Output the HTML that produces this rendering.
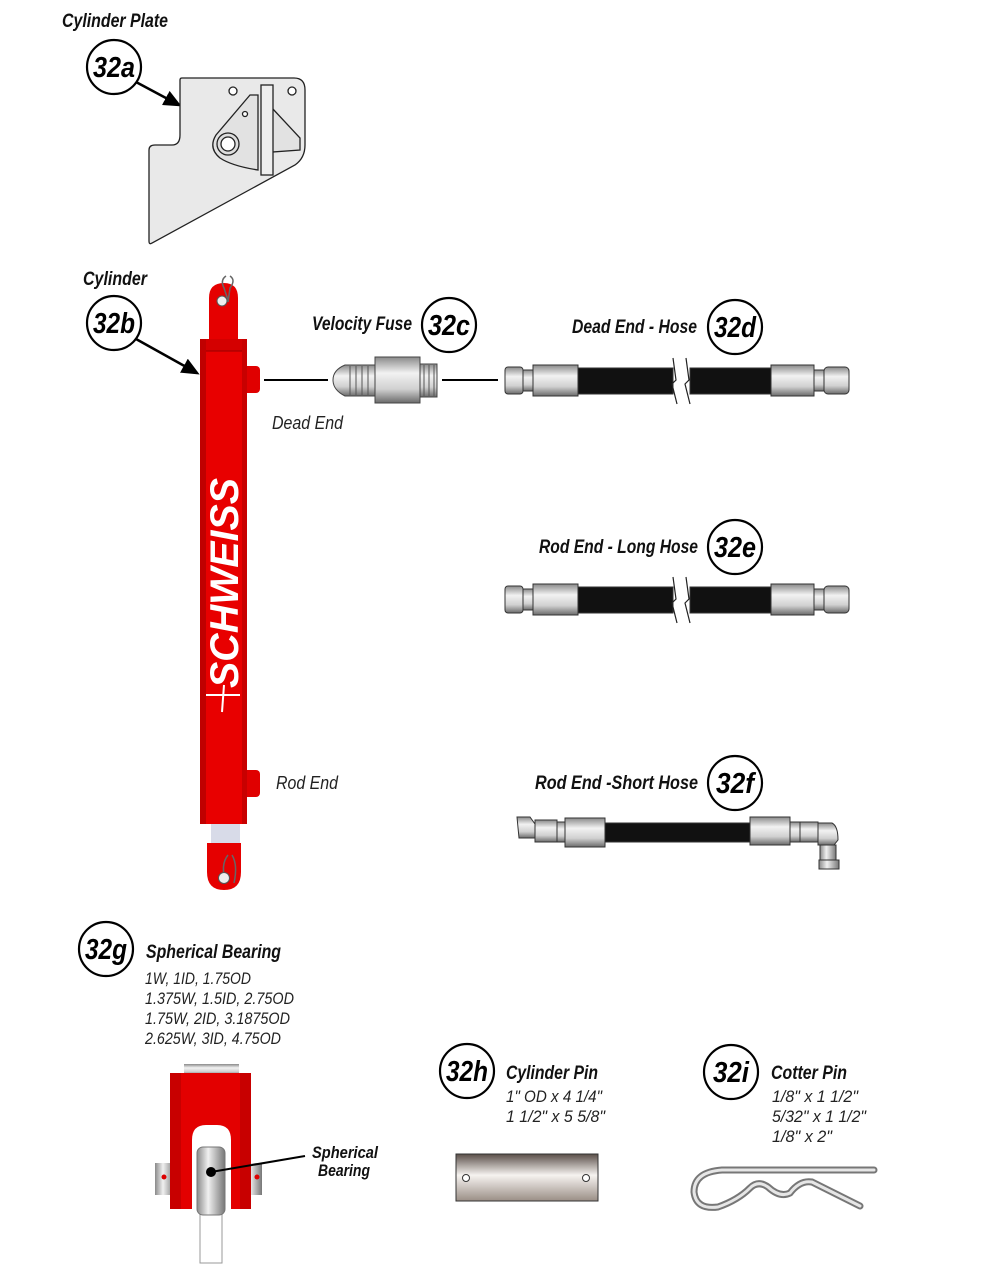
<!DOCTYPE html>
<html><head><meta charset="utf-8"><style>
html,body{margin:0;padding:0;background:#fff;}
svg{display:block;}
.t{font-family:"Liberation Sans Narrow","Liberation Sans",sans-serif;font-style:italic;}
.b{font-weight:bold;}
</style></head><body>
<svg width="990" height="1275" viewBox="0 0 990 1275" xmlns="http://www.w3.org/2000/svg">
<defs>
<linearGradient id="met" x1="0" y1="0" x2="0" y2="1"><stop offset="0" stop-color="#8a8a8a"/><stop offset="0.35" stop-color="#f2f2f2"/><stop offset="0.7" stop-color="#d0d0d0"/><stop offset="1" stop-color="#6a6a6a"/></linearGradient>
<linearGradient id="metv" x1="0" y1="0" x2="1" y2="0"><stop offset="0" stop-color="#8a8a8a"/><stop offset="0.4" stop-color="#f0f0f0"/><stop offset="1" stop-color="#777"/></linearGradient>
<linearGradient id="pin" x1="0" y1="0" x2="0" y2="1"><stop offset="0" stop-color="#5a4e48"/><stop offset="0.45" stop-color="#f6f3f0"/><stop offset="1" stop-color="#9a8e86"/></linearGradient>
<marker id="ah" markerWidth="18" markerHeight="16" refX="15" refY="8" orient="auto" markerUnits="userSpaceOnUse"><path d="M0,0 L18,8 L0,16 z" fill="#000"/></marker>
</defs>

<!-- labels & circles -->
<g class="t b" font-size="19" fill="#111">
<text x="62" y="27" textLength="106" lengthAdjust="spacingAndGlyphs">Cylinder Plate</text>
<text x="83" y="285" textLength="64" lengthAdjust="spacingAndGlyphs">Cylinder</text>
<text x="312" y="330" textLength="100" lengthAdjust="spacingAndGlyphs">Velocity Fuse</text>
<text x="572" y="333" textLength="125" lengthAdjust="spacingAndGlyphs">Dead End - Hose</text>
<text x="539" y="553" textLength="159" lengthAdjust="spacingAndGlyphs">Rod End - Long Hose</text>
<text x="535" y="789" textLength="163" lengthAdjust="spacingAndGlyphs">Rod End  -Short Hose</text>
<text x="146" y="958" textLength="135" lengthAdjust="spacingAndGlyphs">Spherical Bearing</text>
<text x="506" y="1079" textLength="92" lengthAdjust="spacingAndGlyphs">Cylinder Pin</text>
<text x="771" y="1079" textLength="76" lengthAdjust="spacingAndGlyphs">Cotter Pin</text>
<text x="312" y="1158" font-size="17" textLength="66" lengthAdjust="spacingAndGlyphs">Spherical</text>
<text x="318" y="1176" font-size="17" textLength="52" lengthAdjust="spacingAndGlyphs">Bearing</text>
</g>
<g class="t" font-size="18" fill="#222">
<text x="272" y="429" textLength="71" lengthAdjust="spacingAndGlyphs">Dead End</text>
<text x="276" y="789" textLength="62" lengthAdjust="spacingAndGlyphs">Rod End</text>
<g font-size="17">
<text x="145" y="984" textLength="106" lengthAdjust="spacingAndGlyphs">1W, 1ID, 1.75OD</text>
<text x="145" y="1004" textLength="149" lengthAdjust="spacingAndGlyphs">1.375W, 1.5ID, 2.75OD</text>
<text x="145" y="1024" textLength="145" lengthAdjust="spacingAndGlyphs">1.75W, 2ID, 3.1875OD</text>
<text x="145" y="1044" textLength="136" lengthAdjust="spacingAndGlyphs">2.625W, 3ID, 4.75OD</text>
<text x="506" y="1102" textLength="96" lengthAdjust="spacingAndGlyphs">1" OD x 4 1/4"</text>
<text x="506" y="1122" textLength="99" lengthAdjust="spacingAndGlyphs">1 1/2" x 5 5/8"</text>
<text x="772" y="1102" textLength="86" lengthAdjust="spacingAndGlyphs">1/8" x 1 1/2"</text>
<text x="772" y="1122" textLength="94" lengthAdjust="spacingAndGlyphs">5/32" x 1 1/2"</text>
<text x="772" y="1142" textLength="60" lengthAdjust="spacingAndGlyphs">1/8" x 2"</text>
</g>
</g>

<g fill="#fff" stroke="#000" stroke-width="2.2">
<circle cx="114" cy="67" r="27"/><circle cx="114" cy="323" r="27"/>
<circle cx="449" cy="325" r="27"/><circle cx="735" cy="327" r="27"/>
<circle cx="735" cy="547" r="27"/><circle cx="735" cy="783" r="27"/>
<circle cx="106" cy="949" r="27"/><circle cx="467" cy="1071" r="27"/>
<circle cx="731" cy="1072" r="27"/>
</g>
<g class="t b" font-size="29" fill="#000" text-anchor="middle">
<text x="114" y="77" textLength="42" lengthAdjust="spacingAndGlyphs">32a</text><text x="114" y="333" textLength="42" lengthAdjust="spacingAndGlyphs">32b</text>
<text x="449" y="335" textLength="42" lengthAdjust="spacingAndGlyphs">32c</text><text x="735" y="337" textLength="42" lengthAdjust="spacingAndGlyphs">32d</text>
<text x="735" y="557" textLength="42" lengthAdjust="spacingAndGlyphs">32e</text><text x="735" y="793" textLength="38" lengthAdjust="spacingAndGlyphs">32f</text>
<text x="106" y="959" textLength="42" lengthAdjust="spacingAndGlyphs">32g</text><text x="467" y="1081" textLength="42" lengthAdjust="spacingAndGlyphs">32h</text>
<text x="731" y="1082" textLength="36" lengthAdjust="spacingAndGlyphs">32i</text>
</g>

<!-- arrows -->
<line x1="136" y1="82" x2="179" y2="105" stroke="#000" stroke-width="2.5" marker-end="url(#ah)"/>
<line x1="136" y1="339" x2="197" y2="373" stroke="#000" stroke-width="2.5" marker-end="url(#ah)"/>

<!-- cylinder plate -->
<g stroke="#222" stroke-width="1.3" fill="#e9e9e9">
<path d="M182,78 L294,78 Q305,78 305,90 L305,145 Q305,158 295,165 L152,243 Q149,245 149,241 L149,150 Q149,145 155,145 L172,145 Q180,145 180,135 L180,80 Q180,78 182,78 Z"/>
<path d="M258,95 L250,95 L216,135 Q208,148 220,158 Q232,166 258,170 Z" fill="#e2e2e2"/>
<path d="M272,108 L300,138 L300,150 L272,152 Z" fill="#e2e2e2"/>
<rect x="261" y="85" width="12" height="90" fill="#eee"/>
<circle cx="233" cy="91" r="4" fill="#fff"/><circle cx="292" cy="91" r="4" fill="#fff"/>
<circle cx="245" cy="114" r="2.5" fill="#fff"/>
<circle cx="228" cy="144" r="11" fill="#ddd"/><circle cx="228" cy="144" r="7" fill="#fff"/>
</g>

<!-- cylinder -->
<g>
<path d="M209,340 L209,298 Q209,283 224,283 Q238,283 238,298 L238,340 Z" fill="#e50000"/>
<path d="M226,276 q-6,4 -2,12 l4,12 M230,276 q6,4 0,12 l-2,14" stroke="#666" stroke-width="1.5" fill="none"/>
<circle cx="222" cy="301" r="5" fill="#eee" stroke="#555"/>
<rect x="242" y="366" width="18" height="27" rx="4" fill="#e00000"/>
<rect x="242" y="770" width="18" height="27" rx="4" fill="#e00000"/>
<rect x="200" y="339" width="47" height="485" fill="#e80000"/>
<rect x="200" y="339" width="47" height="12" fill="#d40000"/>
<line x1="200" y1="351" x2="247" y2="351" stroke="#900" stroke-width="1"/>
<rect x="200" y="339" width="6" height="485" fill="#c00000"/>
<rect x="242" y="339" width="5" height="485" fill="#c80000"/>
<rect x="211" y="824" width="29" height="19" fill="#d8dbe8"/>
<path d="M207,843 L241,843 L241,872 Q241,890 224,890 Q207,890 207,872 Z" fill="#e50000"/>
<path d="M228,855 q-8,10 -2,28 M232,855 q6,10 2,28" stroke="#666" stroke-width="1.5" fill="none"/>
<circle cx="224" cy="878" r="5.5" fill="#eee" stroke="#555"/>
<text transform="translate(238,688) rotate(-90)" font-family="Liberation Sans Narrow,Liberation Sans,sans-serif" font-style="italic" font-weight="bold" font-size="40" fill="#fff" textLength="210" lengthAdjust="spacingAndGlyphs">SCHWEISS</text>
<path d="M206,695 L240,695 M224,685 L222,712" stroke="#fff" stroke-width="2"/>
</g>

<!-- connector lines -->
<line x1="264" y1="380" x2="328" y2="380" stroke="#000" stroke-width="2"/>
<line x1="442" y1="380" x2="498" y2="380" stroke="#000" stroke-width="2"/>

<!-- velocity fuse -->
<g stroke="#444" stroke-width="1">
<path d="M345,365 L378,365 L378,396 L345,396 Q333,390 333,380 Q333,370 345,365 Z" fill="url(#met)"/>
<rect x="375" y="357" width="45" height="46" fill="url(#met)"/>
<rect x="420" y="364" width="17" height="33" fill="url(#met)"/>
<path d="M350,366 v29 M356,366 v29 M362,366 v29 M368,366 v29 M424,365 v31 M429,365 v31 M434,365 v31" stroke="#555"/>
</g>

<!-- hoses -->
<g id="hose">
<g stroke="#333" stroke-width="1">
<rect x="505" y="367" width="18" height="27" rx="3" fill="url(#met)"/>
<rect x="523" y="370" width="10" height="21" fill="url(#met)"/>
<rect x="533" y="365" width="45" height="31" fill="url(#met)"/>
<rect x="578" y="368" width="95" height="26" fill="#111"/>
<rect x="690" y="368" width="81" height="26" fill="#111"/>
<rect x="771" y="365" width="43" height="31" fill="url(#met)"/>
<rect x="814" y="370" width="10" height="21" fill="url(#met)"/>
<rect x="824" y="367" width="25" height="27" rx="4" fill="url(#met)"/>
</g>
<path d="M673,358 L676,380 L672,384 L677,404" stroke="#222" fill="none" stroke-width="1.2"/>
<path d="M686,358 L689,380 L685,384 L690,404" stroke="#222" fill="none" stroke-width="1.2"/>
</g>
<use href="#hose" transform="translate(0,219)"/>

<!-- short hose -->
<g stroke="#333" stroke-width="1">
<path d="M517,817 L530,817 L535,824 L535,838 L519,838 Z" fill="url(#met)"/>
<rect x="535" y="820" width="22" height="22" fill="url(#met)"/>
<rect x="557" y="822" width="8" height="20" fill="url(#met)"/>
<rect x="565" y="818" width="40" height="29" fill="url(#met)"/>
<rect x="605" y="823" width="145" height="19" fill="#111"/>
<rect x="750" y="817" width="40" height="28" fill="url(#met)"/>
<rect x="790" y="822" width="10" height="20" fill="url(#met)"/>
<rect x="800" y="822" width="18" height="20" fill="url(#met)"/>
<path d="M818,823 L832,823 Q838,826 838,840 L834,845 L818,845 Z" fill="url(#met)"/>
<rect x="820" y="845" width="16" height="15" fill="url(#metv)"/>
<rect x="819" y="860" width="20" height="9" fill="url(#metv)"/>
</g>

<!-- spherical bearing assembly -->
<g>
<rect x="184" y="1064" width="55" height="11" fill="url(#met)"/>
<rect x="155" y="1163" width="20" height="32" fill="url(#metv)"/>
<rect x="242" y="1163" width="20" height="32" fill="url(#metv)"/>
<path d="M170,1073 L251,1073 L251,1209 L231,1209 L231,1140 Q231,1125 217,1125 L206,1125 Q192,1125 192,1140 L192,1209 L170,1209 Z" fill="#e30000"/>
<rect x="170" y="1073" width="11" height="136" fill="#c80000"/>
<rect x="240" y="1073" width="11" height="136" fill="#c80000"/>
<circle cx="164" cy="1177" r="2.5" fill="#d00"/><circle cx="257" cy="1177" r="2.5" fill="#d00"/>
<rect x="200" y="1195" width="22" height="68" fill="#fff" stroke="#999"/>
<rect x="197" y="1147" width="28" height="68" rx="6" fill="url(#metv)" stroke="#777"/>
<circle cx="211" cy="1172" r="5" fill="#000"/>
<line x1="211" y1="1172" x2="305" y2="1156" stroke="#000" stroke-width="2"/>
</g>

<!-- cylinder pin -->
<rect x="456" y="1154" width="142" height="47" fill="url(#pin)" stroke="#333"/>
<circle cx="466" cy="1178" r="3.5" fill="#fff" stroke="#333"/>
<circle cx="586" cy="1178" r="3.5" fill="#fff" stroke="#333"/>

<!-- cotter pin -->
<g fill="none" stroke-linecap="round">
<path d="M874,1170 L722,1170 Q694,1172 694,1192 Q696,1210 718,1207 Q738,1200 750,1188 Q758,1180 768,1187 Q780,1198 790,1193 Q800,1180 812,1182 L860,1206" stroke="#777" stroke-width="7"/>
<path d="M874,1170 L722,1170 Q694,1172 694,1192 Q696,1210 718,1207 Q738,1200 750,1188 Q758,1180 768,1187 Q780,1198 790,1193 Q800,1180 812,1182 L860,1206" stroke="#e6e6e6" stroke-width="3"/>
</g>
</svg>
</body></html>
